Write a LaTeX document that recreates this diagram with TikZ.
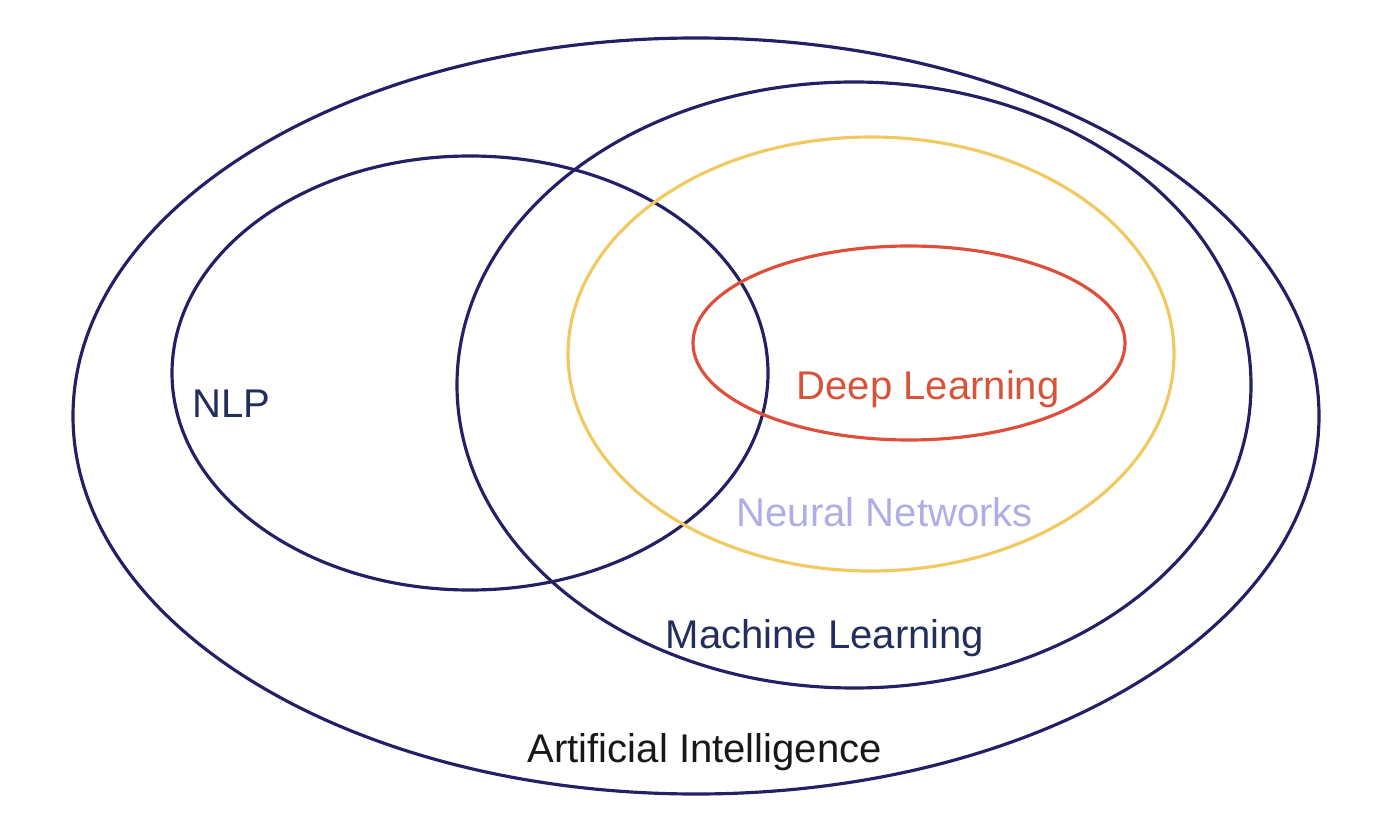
\documentclass[tikz,border=0pt]{standalone}
\usepackage{fontspec}
\setmainfont{Liberation Sans}
\usepackage{xcolor}
\usepackage{tikz}
\definecolor{navy}{RGB}{36,32,102}
\definecolor{nnyellow}{RGB}{240,202,96}
\definecolor{dlred}{RGB}{222,78,58}
\definecolor{dltext}{RGB}{214,84,58}
\definecolor{nntext}{RGB}{176,172,230}
\definecolor{mltext}{RGB}{36,46,92}
\definecolor{aitext}{RGB}{24,24,24}
\tikzset{
  setline/.style = {line width = 0.9pt},
  setlabel/.style = {anchor = base west, inner sep = 0, font = \fontsize{11.4}{13}\selectfont}
}

\begin{document}
\begin{tikzpicture}
    \useasboundingbox (0, 0) rectangle (13.92, 8.34);
    \draw[setline, navy] (6.96, 4.18) ellipse (6.23 and 3.78);
    \draw[setline, navy] (8.54, 4.49) ellipse (3.97 and 3.03);
    \draw[setline, navy] (4.70, 4.61) ellipse (2.98 and 2.17);
    \draw[setline, nnyellow] (8.71, 4.80) ellipse (3.03 and 2.17);
    \draw[setline, dlred] (9.09, 4.91) ellipse (2.16 and 0.97);
    \node[setlabel, text = mltext] (nlp) at (1.92, 4.17) {NLP};
    \node[setlabel, text = dltext] (dl) at (7.96, 4.34) {Deep Learning};
    \node[setlabel, text = nntext] (nn) at (7.36, 3.08) {Neural Networks};
    \node[setlabel, text = mltext] (ml) at (6.65, 1.86) {Machine Learning};
    \node[setlabel, text = aitext] (ai) at (5.27, 0.72) {Artificial Intelligence};
\end{tikzpicture}
\end{document}
